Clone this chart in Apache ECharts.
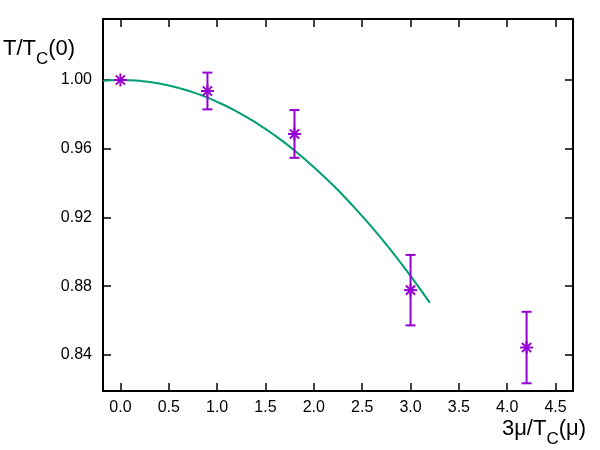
<!DOCTYPE html>
<html><head><meta charset="utf-8">
<script src="https://cdn.jsdelivr.net/npm/echarts@6/dist/echarts.min.js"></script>
<style>html,body{margin:0;padding:0;background:#fff}#c{width:600px;height:450px}</style>
</head><body><div id="c"></div>
<script>
// Data points with error bars
const pointX = [0.0, 0.9, 1.8, 3.0, 4.2];
const pointY = [1.000, 0.9936, 0.9686, 0.8777, 0.8443];
const pointErr = [0.0, 0.0107, 0.0139, 0.0205, 0.0208];
// Fit curve
const curveX = [-0.18, 0.0, 0.2, 0.4, 0.6, 0.8, 1.0, 1.2, 1.4, 1.6, 1.8, 2.0, 2.2, 2.4, 2.6, 2.8, 3.0, 3.2];
const curveY = [0.9996, 1.0000, 0.9995, 0.9980, 0.9954, 0.9919, 0.9873, 0.9818, 0.9752, 0.9676, 0.9590, 0.9493, 0.9387, 0.9270, 0.9144, 0.9007, 0.8860, 0.8703];
// Tick values
const xTicks = [0.0, 0.5, 1.0, 1.5, 2.0, 2.5, 3.0, 3.5, 4.0, 4.5];
const yTicks = [0.84, 0.88, 0.92, 0.96, 1.00];

const X_MIN = -0.18, X_MAX = 4.68, Y_MIN = 0.819, Y_MAX = 1.0355;
const FONT = '"Liberation Sans", Arial, sans-serif';
const PURPLE = '#9400d3', GREEN = '#009e73';

const chart = echarts.init(document.getElementById('c'), null, {renderer: 'canvas'});

function xAxisDef(pos, showLabel) {
  return {
    type: 'value', position: pos, min: X_MIN, max: X_MAX,
    axisLine: {show: true, onZero: false, lineStyle: {color: '#000', width: 2}},
    axisTick: {show: true, inside: true, length: 8, customValues: xTicks, lineStyle: {color: '#000', width: 1.5}},
    axisLabel: {show: showLabel, customValues: xTicks, margin: 9, color: '#000', fontSize: 16, fontFamily: FONT,
      formatter: v => v.toFixed(1)},
    splitLine: {show: false}
  };
}
function yAxisDef(pos, showLabel) {
  return {
    type: 'value', position: pos, min: Y_MIN, max: Y_MAX,
    axisLine: {show: true, onZero: false, lineStyle: {color: '#000', width: 2}},
    axisTick: {show: true, inside: true, length: 8, customValues: yTicks, lineStyle: {color: '#000', width: 1.5}},
    axisLabel: {show: showLabel, customValues: yTicks, margin: 11, color: '#000', fontSize: 16, fontFamily: FONT,
      formatter: v => v.toFixed(2)},
    splitLine: {show: false}
  };
}

const richTitle = {
  a: {fontSize: 22, fontFamily: FONT, verticalAlign: 'top', lineHeight: 30},
  s: {fontSize: 17, fontFamily: FONT, verticalAlign: 'bottom', lineHeight: 30, padding: [10, 0, 0, 0]}
};

const option = {
  animation: false,
  backgroundColor: '#fff',
  grid: {left: 103, right: 27, top: 19, bottom: 59, containLabel: false},
  xAxis: [xAxisDef('bottom', true), xAxisDef('top', false)],
  yAxis: [yAxisDef('left', true), yAxisDef('right', false)],
  graphic: [
    {type: 'text', left: 3, top: 38, style: {
      text: '{a|T/T}{s|C}{a|(0)}', fill: '#000', rich: richTitle
    }},
    {type: 'text', right: 14, top: 418, style: {
      text: '{a|3μ/T}{s|C}{a|(μ)}', fill: '#000', rich: richTitle
    }}
  ],
  series: [
    {
      type: 'line', xAxisIndex: 0, yAxisIndex: 0,
      data: curveX.map((x, i) => [x, curveY[i]]),
      showSymbol: false, smooth: true,
      lineStyle: {color: GREEN, width: 2}, z: 2
    },
    {
      type: 'custom', xAxisIndex: 0, yAxisIndex: 0, z: 3,
      data: pointX.map((x, i) => [x, pointY[i], pointErr[i]]),
      encode: {x: 0, y: 1},
      renderItem: function (params, api) {
        const x = api.value(0), y = api.value(1), e = api.value(2);
        const c = api.coord([x, y]);
        const st = {stroke: PURPLE, lineWidth: 2, fill: null};
        const ln = (x1, y1, x2, y2) => ({type: 'line', shape: {x1, y1, x2, y2}, style: st});
        const ch = [];
        if (e > 0) {
          const hi = api.coord([x, y + e]), lo = api.coord([x, y - e]);
          const cap = 5;
          ch.push(ln(c[0], hi[1], c[0], lo[1]));
          ch.push(ln(c[0] - cap, hi[1], c[0] + cap, hi[1]));
          ch.push(ln(c[0] - cap, lo[1], c[0] + cap, lo[1]));
        }
        const r = 6.5, d = 4.6;
        ch.push(ln(c[0] - r, c[1], c[0] + r, c[1]));
        ch.push(ln(c[0], c[1] - r, c[0], c[1] + r));
        ch.push(ln(c[0] - d, c[1] - d, c[0] + d, c[1] + d));
        ch.push(ln(c[0] - d, c[1] + d, c[0] + d, c[1] - d));
        return {type: 'group', children: ch};
      }
    }
  ]
};
chart.setOption(option);
</script>
</body></html>
